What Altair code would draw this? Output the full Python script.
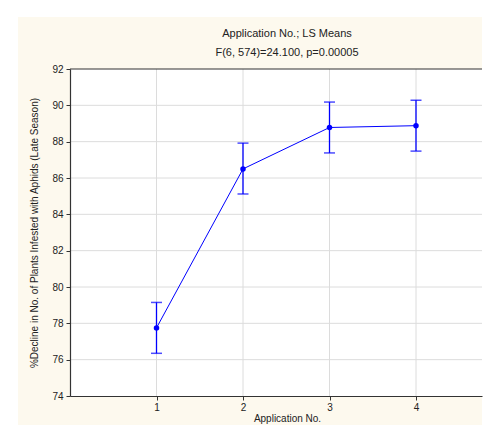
import altair as alt
import pandas as pd

# ---- data ----
app_no = [1, 2, 3, 4]
ls_mean = [77.75, 86.50, 88.78, 88.88]
ci_low = [76.35, 85.12, 87.38, 87.48]
ci_high = [79.15, 87.92, 90.18, 90.28]
y_ticks = [74, 76, 78, 80, 82, 84, 86, 88, 90, 92]
x_ticks = [1, 2, 3, 4]
title_lines = ["Application No.; LS Means", "F(6, 574)=24.100, p=0.00005"]
x_title = "Application No."
y_title = "%Decline in No. of Plants Infested with Aphids (Late Season)"

df = pd.DataFrame({"app": app_no, "mean": ls_mean, "lo": ci_low, "hi": ci_high})
gx = pd.DataFrame({"app": x_ticks})
gy = pd.DataFrame({"mean": y_ticks[1:-1]})
one = pd.DataFrame({"a": [0]})

W, H = 412, 327
FONT = "Liberation Sans"
BLUE = "#0000ff"
CREAM = "#fdf9ee"

x_scale = alt.Scale(domain=[0, 4.763], nice=False, zero=False)
y_scale = alt.Scale(domain=[74, 92], nice=False, zero=False)

x_axis = alt.Axis(values=x_ticks, grid=False, zindex=1, tickSize=4, tickColor="#333",
                  domainColor="#333", domainWidth=1.2, labelFont=FONT, labelFontSize=10,
                  labelColor="#222", labelPadding=2, title=x_title, titleFont=FONT,
                  titleFontSize=10, titleFontWeight="normal", titleColor="#222",
                  titleX=217, titlePadding=1)
y_axis = alt.Axis(values=y_ticks, grid=False, zindex=1, tickSize=4, tickColor="#333",
                  domainColor="#333", domainWidth=1.2, labelFont=FONT, labelFontSize=10,
                  labelColor="#222", labelPadding=3, title=y_title, titleFont=FONT,
                  titleFontSize=10, titleFontWeight="normal", titleColor="#222",
                  titlePadding=12)

X = alt.X("app:Q", scale=x_scale, axis=x_axis)
Y = alt.Y("mean:Q", scale=y_scale, axis=y_axis)

bg = alt.Chart(one).mark_rect(color=CREAM, clip=False).encode(
    x=alt.value(-52), x2=alt.value(W), y=alt.value(-52), y2=alt.value(H + 29))
plot_bg = alt.Chart(one).mark_rect(color="white").encode(
    x=alt.value(0), x2=alt.value(W), y=alt.value(0), y2=alt.value(H))
grid_v = alt.Chart(gx).mark_rule(color="#dcdcdc", strokeWidth=1).encode(
    x=X, y=alt.value(0), y2=alt.value(H))
grid_h = alt.Chart(gy).mark_rule(color="#dcdcdc", strokeWidth=1).encode(
    y=Y, x=alt.value(0), x2=alt.value(W))
top_line = alt.Chart(one).mark_rule(color="#333", strokeWidth=1.2).encode(
    y=alt.value(0), x=alt.value(0), x2=alt.value(W))

base = alt.Chart(df)
line = base.mark_line(color=BLUE, strokeWidth=1).encode(x=X, y=Y)
whisk = base.mark_rule(color=BLUE, strokeWidth=1.3).encode(
    x=X, y=alt.Y("lo:Q", scale=y_scale, axis=y_axis), y2="hi:Q")
cap_lo = base.mark_tick(color=BLUE, orient="horizontal", size=11, thickness=1.5).encode(
    x=X, y=alt.Y("lo:Q", scale=y_scale, axis=y_axis))
cap_hi = base.mark_tick(color=BLUE, orient="horizontal", size=11, thickness=1.5).encode(
    x=X, y=alt.Y("hi:Q", scale=y_scale, axis=y_axis))
pts = base.mark_point(filled=True, size=30, color=BLUE, opacity=1).encode(x=X, y=Y)

t1 = alt.Chart(one).mark_text(text=title_lines[0], font=FONT, fontSize=11, color="#222",
                              align="center", baseline="middle").encode(
    x=alt.value(217), y=alt.value(-35))
t2 = alt.Chart(one).mark_text(text=title_lines[1], font=FONT, fontSize=11, color="#222",
                              align="center", baseline="middle").encode(
    x=alt.value(217), y=alt.value(-16))

chart = alt.layer(bg, plot_bg, grid_v, grid_h, top_line, whisk, cap_lo, cap_hi, line, pts, t1, t2).properties(
    width=W, height=H, padding={"left": 10, "top": 9, "right": 0, "bottom": 0},
    background="white"
).configure_view(stroke=None)

chart.save("out.html", embed_options={"renderer": "svg", "actions": False})
